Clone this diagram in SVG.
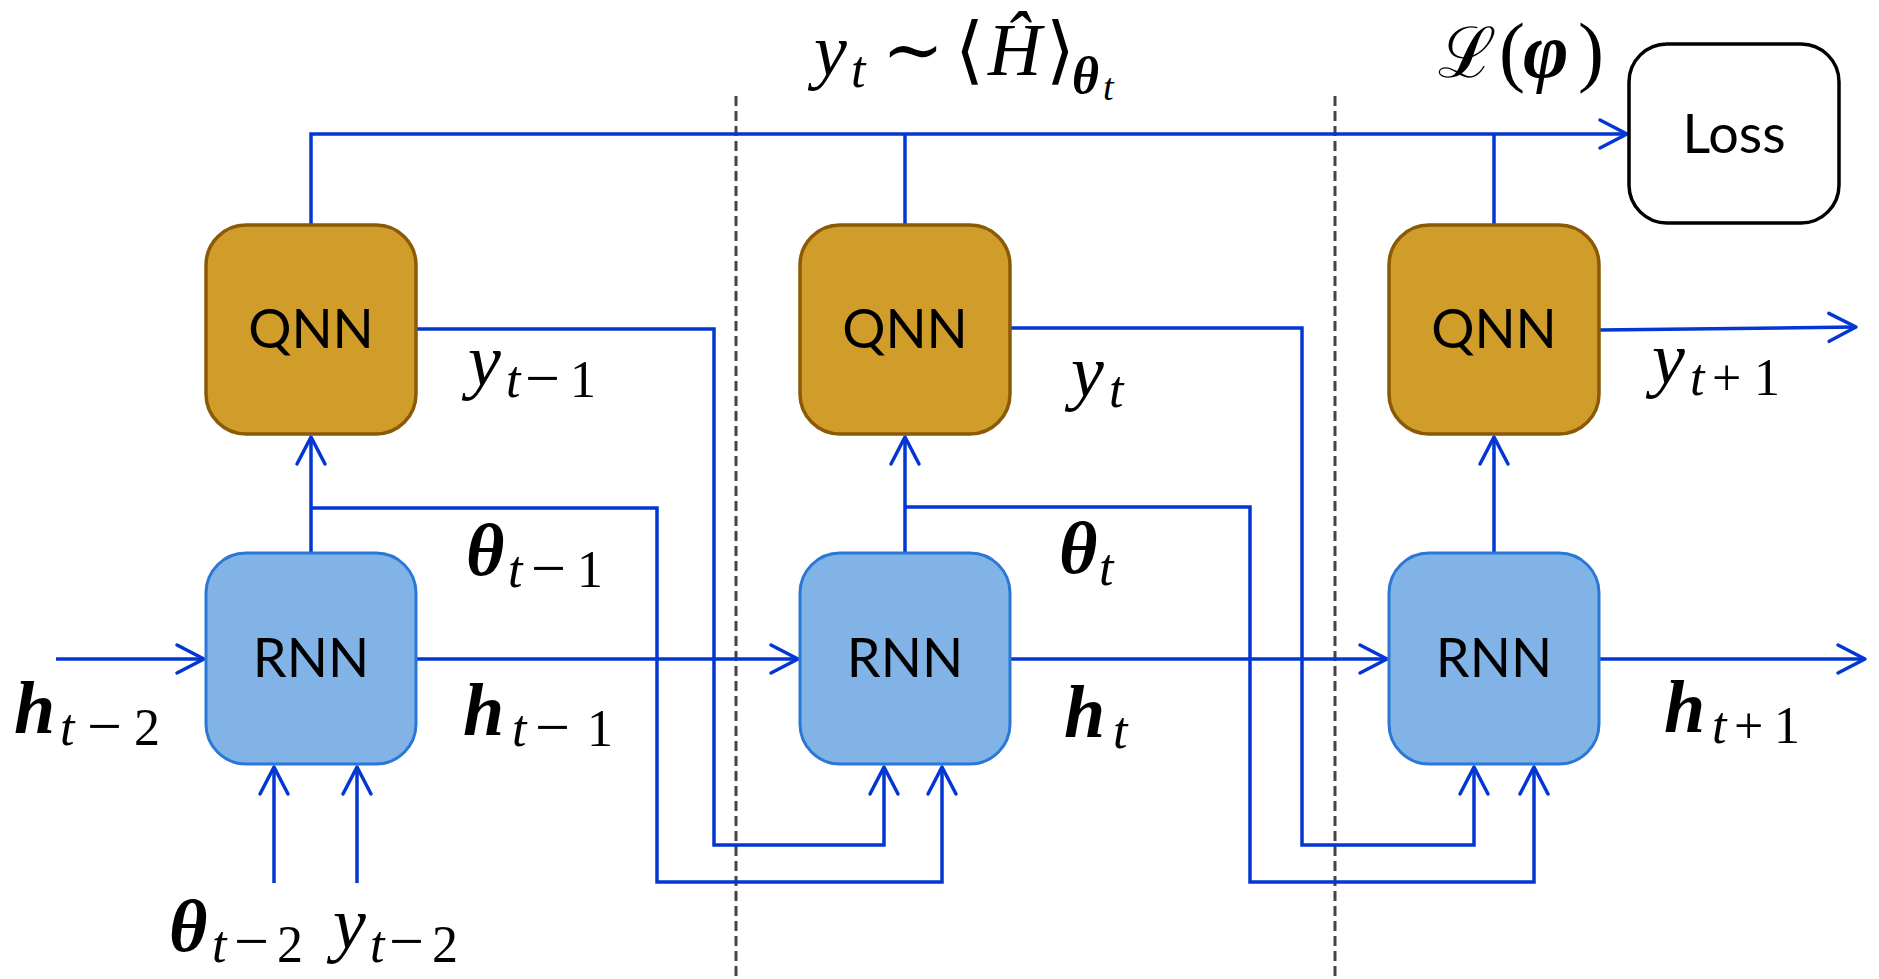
<svg xmlns="http://www.w3.org/2000/svg" width="1879" height="979" viewBox="0 0 1879 979">
<style>
.qnn rect{fill:#D09C2A;stroke:#8A5A06;stroke-width:3.5}
.rnn rect{fill:#82B3E6;stroke:#2A78D6;stroke-width:3}
.loss rect{fill:#fff;stroke:#000;stroke-width:3.5}
.lbl{font-family:Lato,"Open Sans",sans-serif;font-weight:400;font-size:54px;fill:#000;text-anchor:middle}
.conn path{fill:none;stroke:#0336D2;stroke-width:3.5}
.div line{stroke:#444;stroke-width:3;stroke-dasharray:10 5}
.m{font-family:"Liberation Serif","DejaVu Serif",serif;font-size:74px;fill:#000}
.i{font-style:italic}
.b{font-style:italic;font-weight:bold}
.s{font-size:52px}
.mn{font-size:62px}
</style>
<defs>
<marker id="arr" markerUnits="userSpaceOnUse" viewBox="-32 -18 36 36" markerWidth="36" markerHeight="36" refX="0" refY="0" orient="auto">
<path d="M-27,-14 L0,0 L-27,14" fill="none" stroke="#0336D2" stroke-width="3.5" stroke-linecap="round" stroke-linejoin="round"/>
</marker>
</defs>
<rect width="1879" height="979" fill="#fff"/>
<g class="div">
<line x1="736" y1="96" x2="736" y2="979"/>
<line x1="1335" y1="96" x2="1335" y2="979"/>
</g>
<g class="conn">
<path d="M311,225 V134 H1627" marker-end="url(#arr)"/>
<path d="M905,225 V134"/>
<path d="M1494,225 V134"/>
<path d="M416,329 H714 V845 H884 V767" marker-end="url(#arr)"/>
<path d="M311,553 V437" marker-end="url(#arr)"/>
<path d="M311,508 H657 V882 H942 V767" marker-end="url(#arr)"/>
<path d="M416,659 H798" marker-end="url(#arr)"/>
<path d="M56,659 H204" marker-end="url(#arr)"/>
<path d="M274,883 V767" marker-end="url(#arr)"/>
<path d="M357,883 V767" marker-end="url(#arr)"/>
<path d="M1010,328 H1302 V845 H1474 V767" marker-end="url(#arr)"/>
<path d="M905,553 V437" marker-end="url(#arr)"/>
<path d="M905,507 H1250 V882 H1534 V767" marker-end="url(#arr)"/>
<path d="M1010,659 H1387" marker-end="url(#arr)"/>
<path d="M1494,553 V437" marker-end="url(#arr)"/>
<path d="M1599,330 L1856,327" marker-end="url(#arr)"/>
<path d="M1599,659 H1865" marker-end="url(#arr)"/>
</g>
<g id="qnn1" class="qnn"><rect x="206" y="225" width="210" height="209" rx="40"/><text class="lbl" x="311" y="348">QNN</text></g>
<g id="qnn2" class="qnn"><rect x="800" y="225" width="210" height="209" rx="40"/><text class="lbl" x="905" y="348">QNN</text></g>
<g id="qnn3" class="qnn"><rect x="1389" y="225" width="210" height="209" rx="40"/><text class="lbl" x="1494" y="348">QNN</text></g>
<g id="rnn1" class="rnn"><rect x="206" y="553" width="210" height="211" rx="40"/><text class="lbl" x="311" y="677">RNN</text></g>
<g id="rnn2" class="rnn"><rect x="800" y="553" width="210" height="211" rx="40"/><text class="lbl" x="905" y="677">RNN</text></g>
<g id="rnn3" class="rnn"><rect x="1389" y="553" width="210" height="211" rx="40"/><text class="lbl" x="1494" y="677">RNN</text></g>
<g id="loss" class="loss"><rect x="1629" y="44" width="210" height="179" rx="38"/><text class="lbl" x="1734" y="153">Loss</text></g>
<g id="labels">
<text class="m"><tspan class="i" x="468" y="385">y</tspan><tspan class="s i" x="506" y="397">t</tspan><tspan class="mn" x="525" y="399">−</tspan><tspan class="s" x="570" y="397">1</tspan></text>
<text class="m"><tspan class="b" x="466" y="575">θ</tspan><tspan class="s i" x="508" y="587">t</tspan><tspan class="mn" x="531" y="589">−</tspan><tspan class="s" x="577" y="587">1</tspan></text>
<text class="m"><tspan class="b" x="463" y="735">h</tspan><tspan class="s i" x="512" y="746">t</tspan><tspan class="mn" x="535" y="748">−</tspan><tspan class="s" x="587" y="746">1</tspan></text>
<text class="m"><tspan class="b" x="14" y="733">h</tspan><tspan class="s i" x="60" y="745">t</tspan><tspan class="mn" x="87" y="747">−</tspan><tspan class="s" x="134" y="745">2</tspan></text>
<text class="m"><tspan class="b" x="169" y="951">θ</tspan><tspan class="s i" x="212" y="962">t</tspan><tspan class="mn" x="234" y="962">−</tspan><tspan class="s" x="277" y="962">2</tspan></text>
<text class="m"><tspan class="i" x="333" y="948">y</tspan><tspan class="s i" x="370" y="962">t</tspan><tspan class="mn" x="389" y="962">−</tspan><tspan class="s" x="432" y="962">2</tspan></text>
<text class="m"><tspan class="i" x="1071" y="396">y</tspan><tspan class="s i" x="1109" y="407">t</tspan></text>
<text class="m"><tspan class="b" x="1059" y="573">θ</tspan><tspan class="s i" x="1099" y="585">t</tspan></text>
<text class="m"><tspan class="b" x="1064" y="737">h</tspan><tspan class="s i" x="1113" y="748">t</tspan></text>
<text class="m"><tspan class="i" x="1652" y="383">y</tspan><tspan class="s i" x="1690" y="395">t</tspan><tspan class="s" x="1712" y="395">+</tspan><tspan class="s" x="1754" y="395">1</tspan></text>
<text class="m"><tspan class="b" x="1664" y="732">h</tspan><tspan class="s i" x="1712" y="743">t</tspan><tspan class="s" x="1734" y="743">+</tspan><tspan class="s" x="1774" y="743">1</tspan></text>
<text class="m"><tspan class="i" x="814" y="75">y</tspan><tspan class="s i" x="851" y="87">t</tspan><tspan x="882" y="75">∼</tspan><tspan x="955" y="75">⟨</tspan><tspan class="i" x="988" y="75">Ĥ</tspan><tspan x="1046" y="75">⟩</tspan><tspan class="s b" x="1072" y="93">θ</tspan><tspan class="i" style="font-size:38px" x="1103" y="100">t</tspan></text>
<text class="m" style="font-size:78px"><tspan style="font-size:70px" x="1438" y="77">ℒ</tspan><tspan x="1499" y="77">(</tspan><tspan class="b" x="1523" y="77">φ</tspan><tspan x="1578" y="77">)</tspan></text>
</g>
</svg>
